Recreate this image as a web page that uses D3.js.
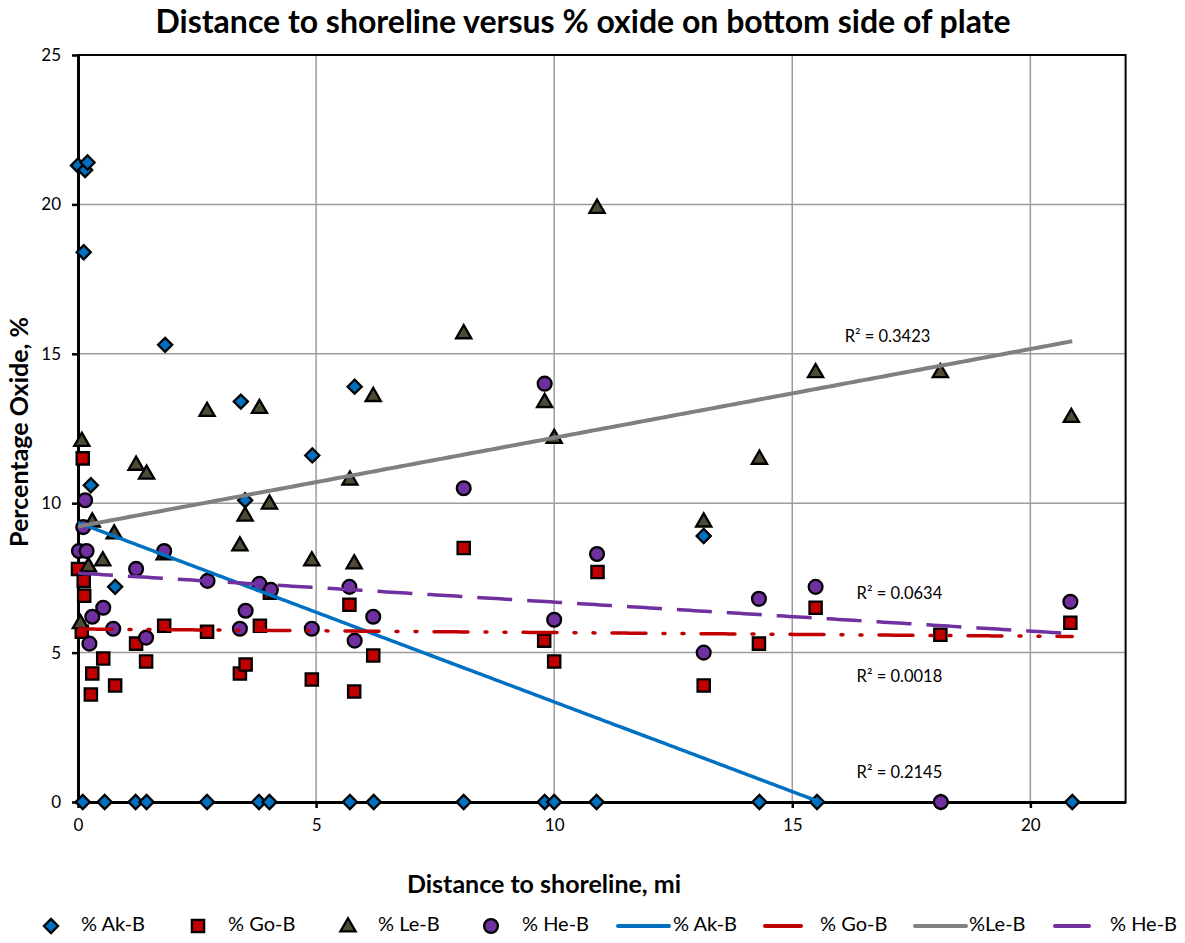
<!DOCTYPE html>
<html>
<head>
<meta charset="utf-8">
<script src="https://cdn.jsdelivr.net/npm/d3@7/dist/d3.min.js"></script>
<style>
  html, body { margin: 0; padding: 0; background: #fff; }
  svg { display: block; font-family: Lato, "Open Sans", sans-serif; }
</style>
</head>
<body>
<svg id="chart" width="1185" height="943"></svg>
<script>
// ---------------- data ----------------
const akX = [0.0, 0.15, 0.2, 0.12, 0.27, 0.78, 1.83, 3.42, 3.51, 4.92, 5.81, 13.14,
             0.1, 0.56, 1.21, 1.44, 2.71, 3.8, 4.02, 5.71, 6.21, 8.1, 9.8, 10.0, 10.89, 14.31, 15.52, 18.12, 20.88];
const akY = [21.3, 21.15, 21.4, 18.4, 10.6, 7.2, 15.3, 13.4, 10.1, 11.6, 13.9, 8.9,
             0, 0, 0, 0, 0, 0, 0, 0, 0, 0, 0, 0, 0, 0, 0, 0, 0];

const goX = [0.1, 0.0, 0.12, 0.13, 0.08, 0.3, 0.27, 0.53, 0.78, 1.22, 1.43, 1.81, 2.71, 3.4, 3.52, 3.82, 4.03,
             4.91, 5.7, 5.8, 6.2, 8.1, 9.79, 10.0, 10.91, 13.14, 14.3, 15.49, 18.11, 20.84];
const goY = [11.5, 7.8, 7.4, 6.9, 5.7, 4.3, 3.6, 4.8, 3.9, 5.3, 4.7, 5.9, 5.7, 4.3, 4.6, 5.9, 7.0,
             4.1, 6.6, 3.7, 4.9, 8.5, 5.4, 4.7, 7.7, 3.9, 5.3, 6.5, 5.6, 6.0];

const leX = [0.08, 0.3, 0.22, 0.05, 0.52, 0.76, 1.22, 1.44, 1.81, 2.71, 3.4, 3.51, 3.81, 4.02, 4.91, 5.71, 5.8,
             6.2, 8.1, 9.8, 10.0, 10.9, 13.14, 14.31, 15.49, 18.11, 20.86];
const leY = [12.1, 9.4, 7.9, 6.0, 8.1, 9.0, 11.3, 11.0, 8.3, 13.1, 8.6, 9.6, 13.2, 10.0, 8.1, 10.8, 8.0,
             13.6, 15.7, 13.4, 12.2, 19.9, 9.4, 11.5, 14.4, 14.4, 12.9];

const heX = [0.15, 0.11, 0.02, 0.18, 0.53, 0.3, 0.74, 0.24, 1.22, 1.43, 1.81, 2.72, 3.4, 3.52, 3.81, 4.05, 4.91,
             5.7, 5.81, 6.2, 8.1, 9.8, 10.0, 10.9, 13.14, 14.3, 15.49, 18.12, 20.84];
const heY = [10.1, 9.2, 8.4, 8.4, 6.5, 6.2, 5.8, 5.3, 7.8, 5.5, 8.4, 7.4, 5.8, 6.4, 7.3, 7.1, 5.8,
             7.2, 5.4, 6.2, 10.5, 14.0, 6.1, 8.3, 5.0, 6.8, 7.2, 0, 6.7];

// linear trend lines (intercept, slope), with R² labels
const trendNames = ["% Ak-B", "% Go-B", "%Le-B", "% He-B"];
const trendIntercept = [9.35, 5.79, 9.22, 7.66];
const trendSlope = [-0.6, -0.012, 0.297, -0.097];
const trendR2 = ["R² = 0.2145", "R² = 0.0018", "R² = 0.3423", "R² = 0.0634"];
const trendLabelPos = [[17.25, 0.95], [17.25, 4.15], [17.0, 15.55], [17.25, 6.92]]; // data coords

const seriesNames = ["% Ak-B", "% Go-B", "% Le-B", "% He-B"];
const xTicks = [0, 5, 10, 15, 20];
const yTicks = [0, 5, 10, 15, 20, 25];

// ---------------- styling ----------------
const markerFill = ["#0070C0", "#C00000", "#4F4A35", "#7030A0"];
const markerShape = ["diamond", "square", "triangle", "circle"];
const lineColor = ["#0070C0", "#C00000", "#808080", "#7030A0"];
const lineDash = [null, "34,17,2,17,2,17", null, "35,15"];
const lineWidth = [3.5, 3.5, 4, 3.5];

const svg = d3.select("#chart");
const plot = {left: 78, right: 1125.6, top: 55, bottom: 802};

const x = d3.scaleLinear().domain([0, 22]).range([plot.left, plot.right]);
const y = d3.scaleLinear().domain([0, 25]).range([plot.bottom, plot.top]);

// gridlines
const grid = svg.append("g");
grid.selectAll("line.vg").data(xTicks.filter(d => d > 0)).join("line")
  .attr("x1", d => x(d)).attr("x2", d => x(d))
  .attr("y1", plot.top).attr("y2", plot.bottom)
  .attr("stroke", "#9c9c9c").attr("stroke-width", 1.5);
grid.selectAll("line.hg").data(yTicks.filter(d => d > 0 && d < 25)).join("line")
  .attr("x1", plot.left).attr("x2", plot.right)
  .attr("y1", d => y(d)).attr("y2", d => y(d))
  .attr("stroke", "#9c9c9c").attr("stroke-width", 1.5);

// plot border
svg.append("rect")
  .attr("x", plot.left).attr("y", plot.top)
  .attr("width", plot.right - plot.left).attr("height", plot.bottom - plot.top)
  .attr("fill", "none").attr("stroke", "#000").attr("stroke-width", 2);

// axes
const xAxis = svg.append("g").attr("transform", `translate(0,${plot.bottom})`)
  .call(d3.axisBottom(x).tickValues(xTicks).tickSize(6).tickSizeOuter(0).tickPadding(11).tickFormat(d3.format("d")));
const yAxis = svg.append("g").attr("transform", `translate(${plot.left},0)`)
  .call(d3.axisLeft(y).tickValues(yTicks).tickSize(6).tickSizeOuter(0).tickPadding(11).tickFormat(d3.format("d")));
[xAxis, yAxis].forEach(a => {
  a.select(".domain").attr("stroke", "#000").attr("stroke-width", 3);
  a.selectAll(".tick line").attr("stroke", "#000").attr("stroke-width", 2.5);
  a.selectAll(".tick text").attr("fill", "#000").attr("font-size", 17).attr("font-family", "Lato, sans-serif");
});

// markers
function shapePath(shape) {
  if (shape === "diamond") return d3.symbol().type(d3.symbolSquare).size(100)();
  if (shape === "square") return d3.symbol().type(d3.symbolSquare).size(150)();
  if (shape === "triangle") return d3.symbol().type(d3.symbolTriangle).size(100)();
  return d3.symbol().type(d3.symbolCircle).size(150)();
}
function shapeTransform(shape, px, py) {
  if (shape === "diamond") return `translate(${px},${py}) rotate(45)`;
  if (shape === "triangle") return `translate(${px},${py + 1})`;
  return `translate(${px},${py})`;
}

const seriesX = [akX, goX, leX, heX];
const seriesY = [akY, goY, leY, heY];
const markers = svg.append("g");
seriesX.forEach((xs, i) => {
  const pts = xs.map((v, j) => [v, seriesY[i][j]]);
  markers.append("g").selectAll("path").data(pts).join("path")
    .attr("d", shapePath(markerShape[i]))
    .attr("transform", d => shapeTransform(markerShape[i], x(d[0]), y(d[1])))
    .attr("fill", markerFill[i]).attr("stroke", "#000").attr("stroke-width", 2.3);
});

// trend lines, clipped to plot area
svg.append("clipPath").attr("id", "clip").append("rect")
  .attr("x", plot.left).attr("y", plot.top)
  .attr("width", plot.right - plot.left).attr("height", plot.bottom - plot.top);
const trends = svg.append("g").attr("clip-path", "url(#clip)");
const allX = [].concat(akX, goX, leX, heX);
const xMin = d3.min(allX), xMax = d3.max(allX);
const line = d3.line().x(d => x(d[0])).y(d => y(d[1]));
trendIntercept.forEach((b, i) => {
  const m = trendSlope[i];
  const pts = d3.range(0, 201).map(k => { const xv = xMin + (xMax - xMin) * k / 200; return [xv, b + m * xv]; });
  trends.append("path").datum(pts)
    .attr("d", line)
    .attr("fill", "none")
    .attr("stroke", lineColor[i])
    .attr("stroke-width", lineWidth[i])
    .attr("stroke-dasharray", lineDash[i])
    .attr("stroke-linecap", i === 1 ? "round" : "butt");
});

// R² labels
svg.append("g").selectAll("text").data(trendR2).join("text")
  .attr("x", (d, i) => x(trendLabelPos[i][0]))
  .attr("y", (d, i) => y(trendLabelPos[i][1]))
  .attr("text-anchor", "middle")
  .attr("dominant-baseline", "middle")
  .attr("font-size", 16.5)
  .attr("fill", "#000")
  .text(d => d);

// title
svg.append("text").attr("x", 583).attr("y", 33).attr("text-anchor", "middle")
  .attr("font-size", 32).attr("font-weight", "bold").attr("fill", "#000")
  .text("Distance to shoreline versus % oxide on bottom side of plate");

// axis titles
svg.append("text").attr("x", 544).attr("y", 893).attr("text-anchor", "middle")
  .attr("font-size", 25).attr("font-weight", "bold").attr("fill", "#000")
  .text("Distance to shoreline, mi");
svg.append("text").attr("transform", "translate(28,432) rotate(-90)").attr("text-anchor", "middle")
  .attr("font-size", 25).attr("font-weight", "bold").attr("fill", "#000")
  .text("Percentage Oxide, %");

// legend
const legendMarkerX = [51, 198, 348, 491];
const legendLineX = [618, 765, 915, 1055];
const legendLineLen = [51, 36, 51, 34];
const legendTextX = [[81, 228, 378, 522], [673, 820, 969, 1110]];
const legendY = 926;
const lg = svg.append("g");
seriesNames.forEach((n, i) => {
  lg.append("path").attr("d", shapePath(markerShape[i]))
    .attr("transform", shapeTransform(markerShape[i], legendMarkerX[i], legendY))
    .attr("fill", markerFill[i]).attr("stroke", "#000").attr("stroke-width", 2.3);
  lg.append("text").attr("x", legendTextX[0][i]).attr("y", legendY).attr("dominant-baseline", "middle")
    .attr("font-size", 20).attr("fill", "#000").text(n);
});
trendNames.forEach((n, i) => {
  lg.append("line").attr("x1", legendLineX[i]).attr("x2", legendLineX[i] + legendLineLen[i])
    .attr("y1", legendY).attr("y2", legendY)
    .attr("stroke", lineColor[i]).attr("stroke-width", 4).attr("stroke-linecap", "round");
  lg.append("text").attr("x", legendTextX[1][i]).attr("y", legendY).attr("dominant-baseline", "middle")
    .attr("font-size", 20).attr("fill", "#000").text(n);
});
</script>
</body>
</html>
